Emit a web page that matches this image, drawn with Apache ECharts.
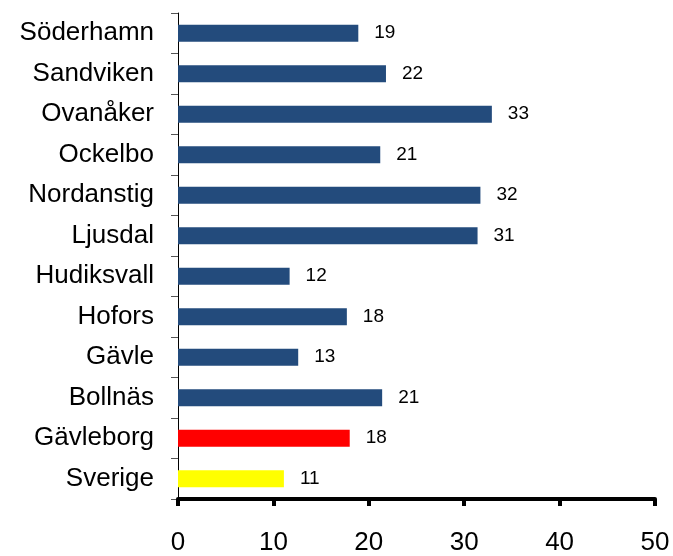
<!DOCTYPE html>
<html>
<head>
<meta charset="utf-8">
<script src="https://cdn.jsdelivr.net/npm/echarts@6/dist/echarts.min.js"></script>
<style>
	html, body { margin: 0; padding: 0; background: #fff; }
	#chart { width: 673px; height: 556px; }
</style>
</head>
<body>
<div id="chart"></div>
<script>
	// kategorier uppifrån och ned
	var kommuner = ['Söderhamn', 'Sandviken', 'Ovanåker', 'Ockelbo', 'Nordanstig', 'Ljusdal',
		'Hudiksvall', 'Hofors', 'Gävle', 'Bollnäs', 'Gävleborg', 'Sverige'];
	var varden = [18.9, 21.8, 32.9, 21.2, 31.7, 31.4, 11.7, 17.7, 12.6, 21.4, 18.0, 11.1];
	var xTicks = [0, 10, 20, 30, 40, 50];

	var chart = echarts.init(document.getElementById('chart'));

	//färg per stapel
	function barColor(name) {
		if (name === 'Sverige') return '#ffff00';
		if (name === 'Gävleborg') return '#ff0000';
		return '#234b7c';
	}

	var option = {
		animation: false,
		grid: {
			left: 178,
			right: 18,
			top: 13,
			bottom: 52
		},
		xAxis: {
			type: 'value',
			min: xTicks[0],
			max: xTicks[xTicks.length - 1],
			interval: 10,
			splitLine: { show: false },
			axisLine: { show: true, lineStyle: { color: '#000', width: 4 } },
			axisTick: { show: true, length: 7, lineStyle: { color: '#000', width: 4 } },
			axisLabel: {
				margin: 31,
				color: '#000',
				fontSize: 26,
				fontFamily: 'Liberation Sans, Arial, sans-serif'
			}
		},
		yAxis: {
			type: 'category',
			inverse: true,
			data: kommuner,
			axisLine: { show: true, lineStyle: { color: '#000', width: 1 } },
			axisTick: { show: true, length: 7, lineStyle: { color: '#555' } },
			axisLabel: {
				margin: 24,
				color: '#000',
				fontSize: 26,
				fontFamily: 'Liberation Sans, Arial, sans-serif'
			}
		},
		series: [{
			type: 'bar',
			barWidth: 17,
			data: varden,
			itemStyle: {
				color: function (p) { return barColor(p.name); }
			},
			label: {
				show: true,
				position: 'right',
				distance: 16,
				color: '#000',
				fontSize: 19,
				fontFamily: 'Liberation Sans, Arial, sans-serif',
				formatter: function (p) { return Math.round(p.value); }
			}
		}]
	};
	chart.setOption(option);
</script>
</body>
</html>
